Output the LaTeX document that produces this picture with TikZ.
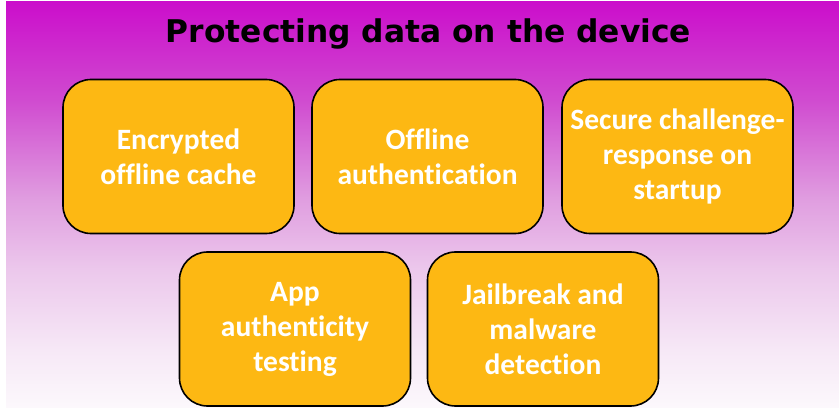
\documentclass[tikz,border=0pt]{standalone}
\usepackage{fontspec}
\setmainfont{Carlito}[RawFeature=-liga]
\newfontfamily\titlefont{DejaVu Sans}
\definecolor{boxorange}{RGB}{253,184,19}
\definecolor{gA}{RGB}{252,248,252}
\definecolor{gB}{RGB}{246,232,246}
\definecolor{gC}{RGB}{236,200,236}
\definecolor{gD}{RGB}{224,158,224}
\definecolor{gE}{RGB}{208,75,208}
\definecolor{gF}{RGB}{203,14,203}
\pgfdeclareverticalshading{bgfade}{100bp}{color(0bp)=(gA); color(25bp)=(gA); color(32.04bp)=(gB); color(41.91bp)=(gC); color(50.56bp)=(gD); color(62.9bp)=(gE); color(75bp)=(gF); color(100bp)=(gF)}
\tikzset{
  itembox/.style={draw=black, line width=1.6pt, fill=boxorange, rounded corners=28pt,
    minimum width=231pt, minimum height=154pt, inner sep=0pt, align=center,
    text=white, font=\fontsize{29.5}{35}\selectfont\bfseries},
}
\begin{document}
\begin{tikzpicture}[x=1pt,y=-1pt]
\useasboundingbox (0,0) rectangle (839,409);
\fill[white] (0,0) rectangle (839,409);
\shade[shading=bgfade] (6,2) rectangle (839,407);
\node[font=\titlefont\fontsize{31.3}{36}\selectfont\bfseries, text=black, anchor=base, inner sep=0pt] (title) at (428.5,43) {Protecting data on the device};
\node[itembox] (b1) at (178.5,156.5) {Encrypted\\offline cache};
\node[itembox] (b2) at (427.5,156.5) {Offline\\authentication};
\node[itembox] (b3) at (677.5,156.5) {Secure challenge-\\response on\\startup};
\node[itembox] (b4) at (295,329) {App\\authenticity\\testing};
\node[itembox] (b5) at (543,329) {Jailbreak and\\malware\\detection};
\end{tikzpicture}
\end{document}
